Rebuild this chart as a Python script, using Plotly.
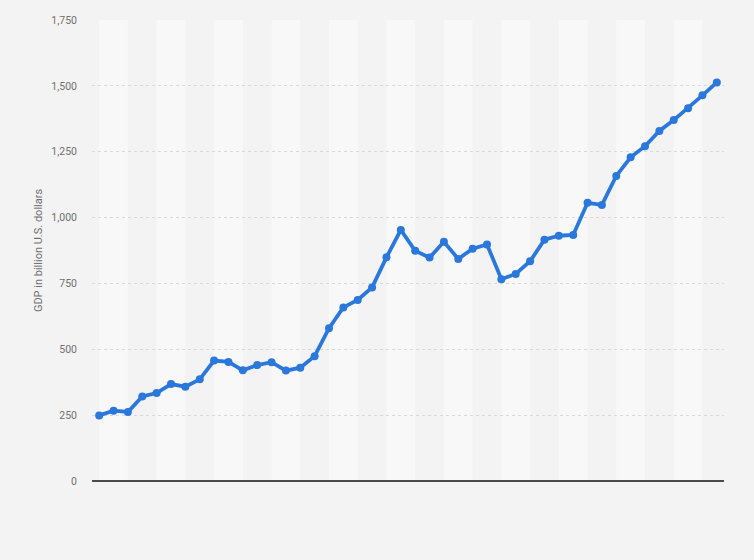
import plotly.graph_objects as go

years = list(range(1980, 2024))
gdp = [249, 267, 262, 321, 334, 368, 358, 386, 457, 452,
       420, 440, 451, 419, 430, 474, 580, 659, 687, 735,
       849, 953, 874, 848, 908, 843, 882, 898, 766, 786,
       834, 916, 931, 934, 1056, 1048, 1158, 1229, 1271, 1329,
       1370, 1415, 1464, 1513]
y_ticks = [0, 250, 500, 750, 1000, 1250, 1500, 1750]

fig = go.Figure()

# alternating light column bands (every two categories)
shapes = []
for i in range(0, len(years) - 1, 4):
    x0 = years[i]
    x1 = years[min(i + 2, len(years) - 1)]
    shapes.append(dict(type="rect", xref="x", yref="paper", x0=x0, x1=x1,
                       y0=0, y1=1, fillcolor="#f8f8f8", line_width=0,
                       layer="below"))

fig.add_trace(go.Scatter(
    x=years, y=gdp, mode="lines+markers",
    line=dict(color="#2a78dc", width=3.8),
    marker=dict(color="#2a78dc", size=8),
    hoverinfo="x+y", showlegend=False,
))

fig.update_layout(
    width=754, height=560,
    margin=dict(l=92, r=30, t=20, b=79),
    paper_bgcolor="#f3f3f3",
    plot_bgcolor="#f3f3f3",
    shapes=shapes,
    font=dict(family="Roboto, Arial, sans-serif", color="#666666", size=11),
    xaxis=dict(range=[years[0] - 0.5, years[-1] + 0.5], showticklabels=False,
               showgrid=False, zeroline=False, showline=False, ticks=""),
    yaxis=dict(range=[0, 1750], tickvals=y_ticks, tickformat=",",
               showgrid=True, gridcolor="#d9d9d9", griddash="dot", gridwidth=1,
               zeroline=True, zerolinecolor="#4a4a4a", zerolinewidth=2,
               ticklabelstandoff=14,
               title=dict(text="GDP in billion U.S. dollars",
                          font=dict(size=11, color="#707070"), standoff=6),
               tickfont=dict(size=10.5, color="#707070")),
)

fig.write_html(
    "out.html",
    config={"displayModeBar": False},
    post_script="document.body.style.margin='0';document.body.style.background='#f3f3f3';",
)
